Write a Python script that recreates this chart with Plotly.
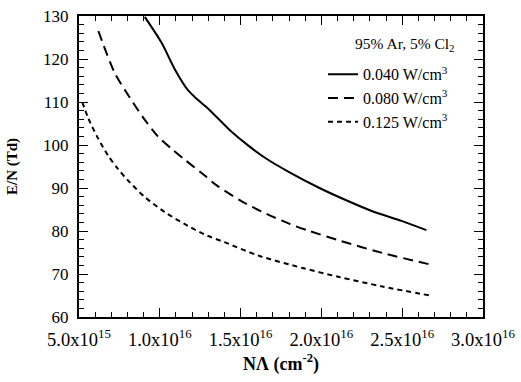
import plotly.graph_objects as go

# NΛ (cm^-2) and E/N (Td)
x_040 = [9.07e15, 1.012e16, 1.09e16, 1.173e16, 1.235e16, 1.309e16, 1.432e16, 1.55e16, 1.66e16, 1.80e16, 1.988e16, 2.15e16, 2.315e16, 2.50e16, 2.65e16]
y_040 = [129.8, 123.7, 117.8, 112.8, 110.5, 108.1, 103.5, 99.8, 96.8, 93.7, 90.0, 87.2, 84.6, 82.3, 80.2]

x_080 = [6.2e15, 7.22e15, 8.15e15, 8.95e15, 9.88e15, 1.07e16, 1.154e16, 1.278e16, 1.352e16, 1.512e16, 1.66e16, 1.80e16, 1.926e16, 2.11e16, 2.377e16, 2.685e16]
y_080 = [126.5, 116.7, 111.0, 106.5, 102.0, 99.2, 96.6, 92.9, 90.6, 86.8, 84.0, 81.7, 80.0, 77.8, 74.9, 72.1]

x_125 = [5.2e15, 5.6e15, 6.17e15, 6.79e15, 7.4e15, 8.02e15, 9.07e15, 1.031e16, 1.173e16, 1.296e16, 1.40e16, 1.617e16, 1.883e16, 2.11e16, 2.377e16, 2.685e16]
y_125 = [110.0, 106.0, 101.6, 97.6, 94.5, 91.8, 87.9, 84.4, 81.2, 78.9, 77.4, 74.2, 71.4, 69.3, 67.1, 64.9]

x_tickvals = [5e15, 1e16, 1.5e16, 2e16, 2.5e16, 3e16]
x_ticktext = ["5.0x10<sup>15</sup>", "1.0x10<sup>16</sup>", "1.5x10<sup>16</sup>",
              "2.0x10<sup>16</sup>", "2.5x10<sup>16</sup>", "3.0x10<sup>16</sup>"]
y_tickvals = [60, 70, 80, 90, 100, 110, 120, 130]

series_names = ["0.040 W/cm<sup>3</sup>", "0.080 W/cm<sup>3</sup>", "0.125 W/cm<sup>3</sup>"]
legend_title = "95% Ar, 5% Cl<sub>2</sub>"

FONT = "Liberation Serif"

fig = go.Figure()
fig.add_trace(go.Scatter(x=x_040, y=y_040, mode="lines", name=series_names[0],
                         line=dict(color="black", width=2, shape="spline", smoothing=0.8, dash="solid")))
fig.add_trace(go.Scatter(x=x_080, y=y_080, mode="lines", name=series_names[1],
                         line=dict(color="black", width=2, shape="spline", smoothing=0.8, dash="10px,6px")))
fig.add_trace(go.Scatter(x=x_125, y=y_125, mode="lines", name=series_names[2],
                         line=dict(color="black", width=2, shape="spline", smoothing=0.8, dash="5px,4px")))

axis_common = dict(showline=True, linecolor="black", linewidth=2, mirror="ticks",
                   ticks="inside", ticklen=9, tickwidth=1, tickcolor="black",
                   showgrid=False, zeroline=False, automargin=False,
                   ticklabeloverflow="allow")

fig.update_xaxes(range=[5e15, 3e16], tickvals=x_tickvals, ticktext=x_ticktext,
                 ticklabelstandoff=5,
                 tickfont=dict(family=FONT, size=18.5, color="black"),
                 minor=dict(ticks="inside", ticklen=5, tickcolor="black", dtick=1e15, showgrid=False),
                 title=dict(text="<b>NΛ (cm<sup>-2</sup>)</b>", font=dict(family=FONT, size=18, color="black"), standoff=8),
                 **axis_common)
fig.update_yaxes(range=[60, 130], tickvals=y_tickvals,
                 ticklabelstandoff=5,
                 tickfont=dict(family=FONT, size=17, color="black"),
                 minor=dict(ticks="inside", ticklen=5, tickcolor="black", dtick=2, showgrid=False),
                 title=dict(text="<b>E/N (Td)</b>", font=dict(family=FONT, size=15, color="black"), standoff=22),
                 **axis_common)

fig.update_layout(
    width=521, height=382,
    margin=dict(l=79, r=38, t=16, b=65),
    plot_bgcolor="white", paper_bgcolor="white",
    font=dict(family=FONT, size=16, color="black"),
    legend=dict(x=0.604, y=0.863, xanchor="left", yanchor="top",
                bgcolor="rgba(0,0,0,0)",
                font=dict(family=FONT, size=16), tracegroupgap=0),
    annotations=[dict(text=legend_title, xref="paper", yref="paper",
                      x=0.935, y=0.904, xanchor="right", yanchor="middle",
                      showarrow=False, font=dict(family=FONT, size=15.5, color="black"))],
)

# remove the browser's default 8px body margin so the figure sits at the window's corner
fig.write_html("out.html", config={"displayModeBar": False},
               post_script="document.body.style.margin='0';document.body.style.overflow='hidden';")
